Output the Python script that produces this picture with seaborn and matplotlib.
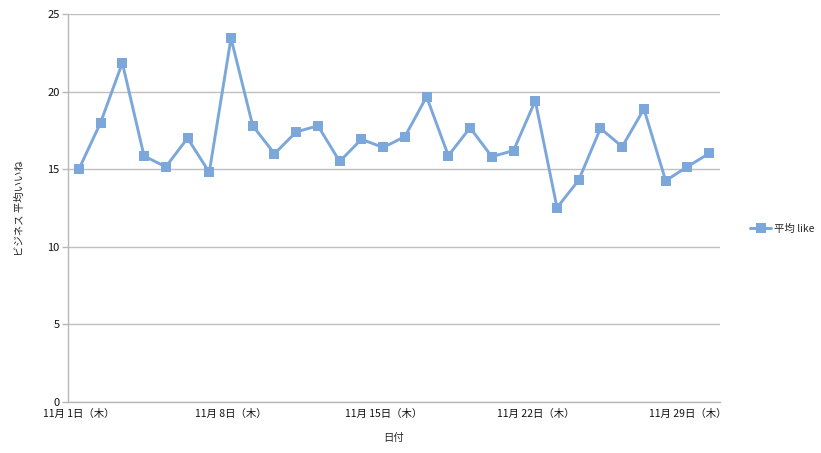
import matplotlib
matplotlib.use("Agg")
import matplotlib.pyplot as plt
import seaborn as sns
import pandas as pd
import numpy as np

days = list(range(1, 31))
values = [15.0, 18.0, 21.85, 15.85, 15.15, 17.0, 14.8, 23.45, 17.8, 16.0,
          17.4, 17.8, 15.5, 16.93, 16.4, 17.1, 19.67, 15.87, 17.67, 15.81,
          16.2, 19.41, 12.52, 14.3, 17.63, 16.45, 18.88, 14.26, 15.16, 16.02]
tick_labels = ["11月 1日（木）", "11月 8日（木）", "11月 15日（木）", "11月 22日（木）", "11月 29日（木）"]
tick_days = [1, 8, 15, 22, 29]
series_name = "平均 like"

sns.set_theme(style="white")
plt.rcParams['font.family'] = ['Noto Sans CJK JP', 'DejaVu Sans']

df = pd.DataFrame({"idx": np.arange(len(days)), "value": values, "series": series_name})

fig = plt.figure(figsize=(8.21, 4.53), dpi=100)
ax = fig.add_axes([68/821, 1-402/453, (720-68)/821, (402-14)/453])

color = "#7ba7da"
sns.lineplot(data=df, x="idx", y="value", hue="series", palette=[color], ax=ax,
             marker="s", markersize=7.5, markeredgewidth=0, linewidth=2.1, legend=False)

ax.set_xlim(-0.5, len(days) - 0.5)
ax.set_ylim(0, 25)
ax.set_yticks([0, 5, 10, 15, 20, 25])
ax.yaxis.grid(True, color="#c0c0c0", linewidth=1.0)
ax.xaxis.grid(False)
ax.set_axisbelow(True)

for s in ["top", "right"]:
    ax.spines[s].set_visible(False)
for s in ["left", "bottom"]:
    ax.spines[s].set_color("#b8b8b8")
    ax.spines[s].set_linewidth(1.0)

# labels at category centers
centers = [d - 1 for d in tick_days]
ax.set_xticks(centers)
ax.set_xticklabels(tick_labels, fontsize=7.5, color="#111111")
ax.tick_params(axis="x", which="major", length=0, pad=5)
# boundary tick marks
ax.set_xticks([c - 0.5 for c in centers], minor=True)
ax.tick_params(axis="x", which="minor", length=4, color="#b8b8b8", width=1, direction="out")
ax.tick_params(axis="y", length=4, color="#b8b8b8", width=1, labelsize=8, pad=2, labelcolor="#111111")
ax.tick_params(axis="y", left=True)

ax.set_xlabel("日付", fontsize=7.5, labelpad=10)
ax.set_ylabel("ビジネス 平均いいね", fontsize=7.5, labelpad=16)

handle = plt.Line2D([0], [0], color=color, linewidth=2.1, marker="s", markersize=7, markeredgewidth=0)
fig.legend([handle], [series_name], loc="center left", bbox_to_anchor=(745/821, 1-229/453),
           frameon=False, fontsize=7.5, handlelength=2.0, handletextpad=0.3, borderpad=0)

fig.savefig("out.png", dpi=100)
